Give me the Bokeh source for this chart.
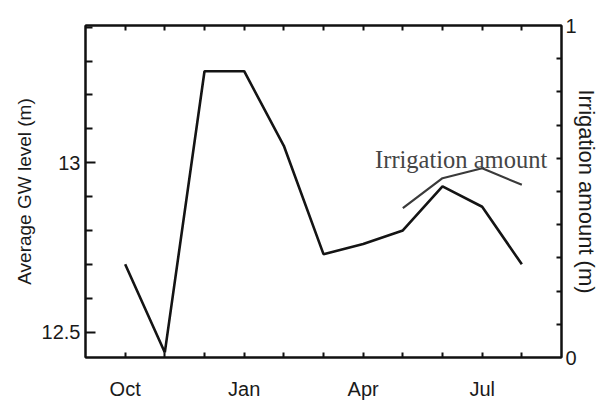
from bokeh.plotting import figure
from bokeh.models import LinearAxis, Range1d, FixedTicker, Label, NumeralTickFormatter
from bokeh.embed import file_html
from bokeh.resources import INLINE

# ---- data ----
months = [0, 1, 2, 3, 4, 5, 6, 7, 8, 9, 10]
month_names = ["Oct", "", "", "Jan", "", "", "Apr", "", "", "Jul", ""]
gw_level = [12.70, 12.44, 13.27, 13.27, 13.05, 12.73, 12.76, 12.80, 12.93, 12.87, 12.70]
irr_months = [7, 8, 9, 10]
irr_amount = [0.45, 0.54, 0.57, 0.52]
gw_major = [12.5, 13.0]
gw_minor = [12.6, 12.7, 12.8, 12.9, 13.1, 13.2, 13.3, 13.4]
irr_major = [0, 1]
irr_minor = [0.1, 0.2, 0.3, 0.4, 0.5, 0.6, 0.7, 0.8, 0.9]

FONT = "Liberation Sans"
TXT = "#1a1a1a"

p = figure(width=601, height=402, x_range=Range1d(-1, 11), y_range=Range1d(12.425, 13.405),
           output_backend="svg", toolbar_location=None,
           min_border_left=85, min_border_right=40, min_border_top=25, min_border_bottom=44)
p.grid.visible = False
p.outline_line_color = "#111111"
p.outline_line_width = 2
p.background_fill_color = "white"
p.border_fill_color = "white"
p.extra_y_ranges = {"irr": Range1d(0, 1)}

def style(ax):
    ax.axis_line_color = "#111111"
    ax.axis_line_width = 2
    ax.major_tick_line_color = "#111111"
    ax.minor_tick_line_color = "#111111"
    ax.major_tick_line_width = 2
    ax.minor_tick_line_width = 2
    ax.major_tick_out = 0
    ax.minor_tick_out = 0
    ax.major_label_text_font = FONT
    ax.major_label_text_color = TXT
    ax.axis_label_text_font = FONT
    ax.axis_label_text_font_style = "normal"
    ax.axis_label_text_color = TXT

# bottom x axis
xa = p.xaxis[0]
style(xa)
xa.ticker = FixedTicker(ticks=months, minor_ticks=[])
xa.major_label_overrides = {m: n for m, n in zip(months, month_names)}
xa.major_tick_in = 5
xa.major_label_text_font_size = "20px"
xa.major_label_standoff = 20

# top x axis (ticks only)
ta = LinearAxis(ticker=FixedTicker(ticks=months, minor_ticks=[]))
style(ta)
ta.major_tick_in = 5
ta.major_label_overrides = {m: "" for m in months}
ta.major_label_text_font_size = "0px"
ta.major_label_standoff = 0
p.add_layout(ta, "above")

# left y axis
ya = p.yaxis[0]
style(ya)
ya.ticker = FixedTicker(ticks=gw_major, minor_ticks=gw_minor)
ya.formatter = NumeralTickFormatter(format="0.[0]")
ya.major_tick_in = 10
ya.minor_tick_in = 7
ya.major_label_text_font_size = "20px"
ya.major_label_standoff = 5
ya.axis_label = "Average GW level (m)"
ya.axis_label_text_font_size = "19px"
ya.axis_label_standoff = 4

# right y axis
ra = LinearAxis(y_range_name="irr", ticker=FixedTicker(ticks=irr_major, minor_ticks=irr_minor))
style(ra)
ra.formatter = NumeralTickFormatter(format="0")
ra.major_tick_in = 0
ra.minor_tick_in = 5
ra.major_label_text_font_size = "20px"
ra.major_label_standoff = 4
ra.axis_label = "Irrigation amount (m)"
ra.axis_label_text_font_size = "22px"
ra.axis_label_standoff = -6
p.add_layout(ra, "right")

# lines
p.line(months, gw_level, line_color="#141414", line_width=2.6)
p.line(irr_months, irr_amount, y_range_name="irr", line_color="#3a3a3a", line_width=2.2)

p.add_layout(Label(x=6.3, y=0.595, y_range_name="irr", text="Irrigation amount",
                   text_font="Liberation Serif", text_font_size="24.5px",
                   text_color="#454545", text_baseline="alphabetic"))

open("out.html", "w").write(file_html(p, INLINE))
